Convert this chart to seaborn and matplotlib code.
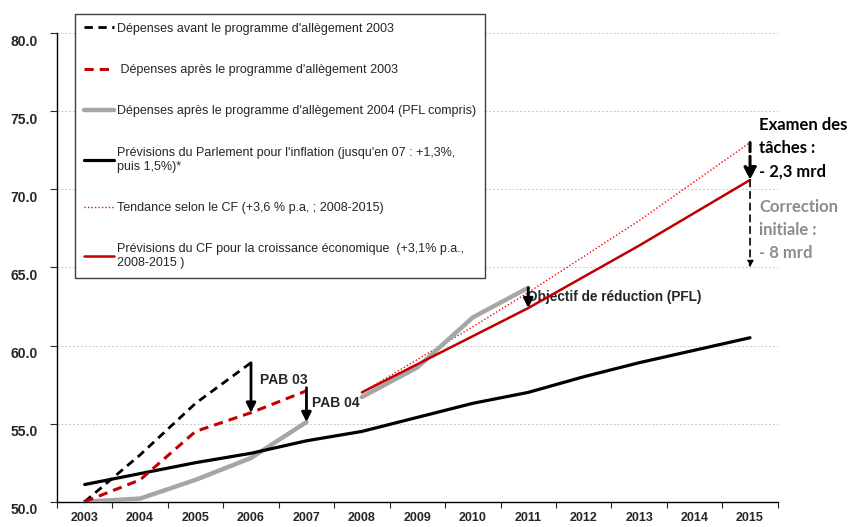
import numpy as np
import pandas as pd
import matplotlib.pyplot as plt
import seaborn as sns
from matplotlib.ticker import FixedLocator, NullFormatter
from matplotlib.transforms import ScaledTranslation

# --- Données (milliards de CHF) ---
annees = ['2003', '2004', '2005', '2006', '2007', '2008', '2009',
          '2010', '2011', '2012', '2013', '2014', '2015']

avant_pab03 = [50.0, 53.0, 56.3, 58.9]                       # 2003-2006
apres_pab03 = [50.0, 51.4, 54.5, 55.7, 57.1]                 # 2003-2007
apres_pab04_a = [50.0, 50.2, 51.4, 52.8, 55.1]               # 2003-2007
apres_pab04_b = [56.7, 58.6, 61.8, 63.7]                     # 2008-2011
inflation = [51.1, 51.8, 52.5, 53.1, 53.9, 54.5, 55.4,
             56.3, 57.0, 58.0, 58.9, 59.7, 60.5]             # 2003-2015
tendance_cf = [57.0, 59.1, 61.2, 63.4, 65.7, 68.0, 70.5, 73.0]   # 2008-2015
croissance_cf = [57.0, 58.8, 60.6, 62.4, 64.4, 66.4, 68.5, 70.6]  # 2008-2015

labels = [
    "Dépenses avant le programme d'allègement 2003",
    " Dépenses après le programme d'allègement 2003",
    "Dépenses après le programme d'allègement 2004 (PFL compris)",
    "Prévisions du Parlement pour l'inflation (jusqu'en 07 : +1,3%,\npuis 1,5%)*",
    "Tendance selon le CF (+3,6 % p.a, ; 2008-2015)",
    "Prévisions du CF pour la croissance économique  (+3,1% p.a.,\n2008-2015 )",
]

ROUGE = '#C00000'
GRIS = '#A6A6A6'

sns.set_style('white')
plt.rcParams['font.family'] = ['Liberation Sans', 'DejaVu Sans']

fig = plt.figure(figsize=(8.5, 5.27), dpi=100)
ax = fig.add_axes([0.067, 0.048, 0.848, 0.889])

x = np.arange(len(annees))

# lignes
sns.lineplot(x=x[5:], y=tendance_cf, ax=ax, color='#FF0000', lw=1.0,
             linestyle=(0, (1, 1.5)), label=labels[4], zorder=2)
sns.lineplot(x=x[:5], y=apres_pab04_a, ax=ax, color=GRIS, lw=3.2,
             label=labels[2], zorder=3)
sns.lineplot(x=x[5:9], y=apres_pab04_b, ax=ax, color=GRIS, lw=3.2, zorder=3)
sns.lineplot(x=x[5:], y=croissance_cf, ax=ax, color=ROUGE, lw=1.8,
             label=labels[5], zorder=4)
sns.lineplot(x=x, y=inflation, ax=ax, color='black', lw=2.3,
             label=labels[3], zorder=4)
sns.lineplot(x=x[:4], y=avant_pab03, ax=ax, color='black', lw=2.0,
             linestyle=(0, (3, 2)), label=labels[0], zorder=5)
sns.lineplot(x=x[:5], y=apres_pab03, ax=ax, color=ROUGE, lw=2.2,
             linestyle=(0, (3, 2)), label=labels[1], zorder=5)

# axes
ax.set_xlim(-0.5, len(annees) - 0.5)
ax.set_ylim(50, 80)
ax.set_xlabel('')
ax.set_ylabel('')
ax.xaxis.set_major_locator(FixedLocator(np.arange(-0.5, len(annees), 1)))
ax.xaxis.set_major_formatter(NullFormatter())
ax.xaxis.set_minor_locator(FixedLocator(x))
ax.set_xticklabels(annees, minor=True, fontsize=9, fontweight='bold')
ax.tick_params(axis='x', which='major', direction='out', length=4,
               width=0.8, bottom=True)
ax.tick_params(axis='x', which='minor', length=0, pad=7.5)
ax.set_yticks(np.arange(50, 81, 5))
ax.set_yticklabels([f'{v:.1f}' for v in np.arange(50, 81, 5)],
                   fontsize=10, fontweight='bold')
ax.tick_params(axis='y', direction='out', length=5, width=0.8, left=True, pad=8.6)
for lab in ax.get_yticklabels():
    lab.set_transform(lab.get_transform() + ScaledTranslation(0, -0.07, fig.dpi_scale_trans))
ax.yaxis.grid(True, color='#C8C8C8', linestyle=(0, (2, 2)), lw=0.7)
ax.set_axisbelow(True)
for s in ['top', 'right']:
    ax.spines[s].set_visible(False)
for s in ['left', 'bottom']:
    ax.spines[s].set_color('black')
    ax.spines[s].set_linewidth(1.0)

# légende
h, l = ax.get_legend_handles_labels()
ordre = [l.index(lab) for lab in labels]
leg = ax.legend([h[i] for i in ordre], [l[i] for i in ordre],
                loc='upper left', bbox_to_anchor=(0.025, 1.041),
                borderaxespad=0, fontsize=9, frameon=True, fancybox=False,
                edgecolor='#404040', framealpha=1, labelspacing=2.35,
                handlelength=2.4, handletextpad=0.3, borderpad=0.7)
leg.get_frame().set_linewidth(1.0)
leg.set_zorder(10)

# flèches et annotations
fleche = dict(arrowstyle='-|>', color='black', lw=2.0, mutation_scale=14,
              shrinkA=0, shrinkB=0)
ax.annotate('', xy=(3, apres_pab03[3]), xytext=(3, avant_pab03[3]),
            arrowprops=fleche, zorder=6)
ax.text(3.17, 57.8, 'PAB 03', fontsize=10, fontweight='bold', va='center')
ax.annotate('', xy=(4, apres_pab04_a[4]), xytext=(4, apres_pab03[4] + 0.2),
            arrowprops=fleche, zorder=6)
ax.text(4.1, 56.3, 'PAB 04', fontsize=10, fontweight='bold', va='center')
ax.annotate('', xy=(8, croissance_cf[3]), xytext=(8, apres_pab04_b[3]),
            arrowprops=fleche, zorder=6)
ax.text(7.98, 63.1, 'Objectif de réduction (PFL)', fontsize=9.8,
        fontweight='bold', va='center')

ax.annotate('', xy=(12, croissance_cf[7]), xytext=(12, tendance_cf[7]),
            arrowprops=dict(arrowstyle='-|>', color='black', lw=2.2,
                            linestyle=(0, (3, 1.5)), mutation_scale=18,
                            shrinkA=0, shrinkB=0), zorder=6)
ax.annotate('', xy=(12, 65.0), xytext=(12, croissance_cf[7]),
            arrowprops=dict(arrowstyle='-|>', color='black', lw=1.2,
                            linestyle=(0, (4, 3)), mutation_scale=9,
                            shrinkA=0, shrinkB=0), zorder=6)
ax.text(12.17, 74.65, 'Examen des\ntâches :\n- 2,3 mrd', fontsize=12,
        fontweight='bold', va='top', ha='left', linespacing=1.55,
        family=['Lato', 'DejaVu Sans'], color='black')
ax.text(12.17, 69.4, 'Correction\ninitiale :\n- 8 mrd', fontsize=12,
        fontweight='bold', va='top', ha='left', linespacing=1.55,
        family=['Lato', 'DejaVu Sans'], color='#8C8C8C')

plt.savefig('out.png', dpi=100)
